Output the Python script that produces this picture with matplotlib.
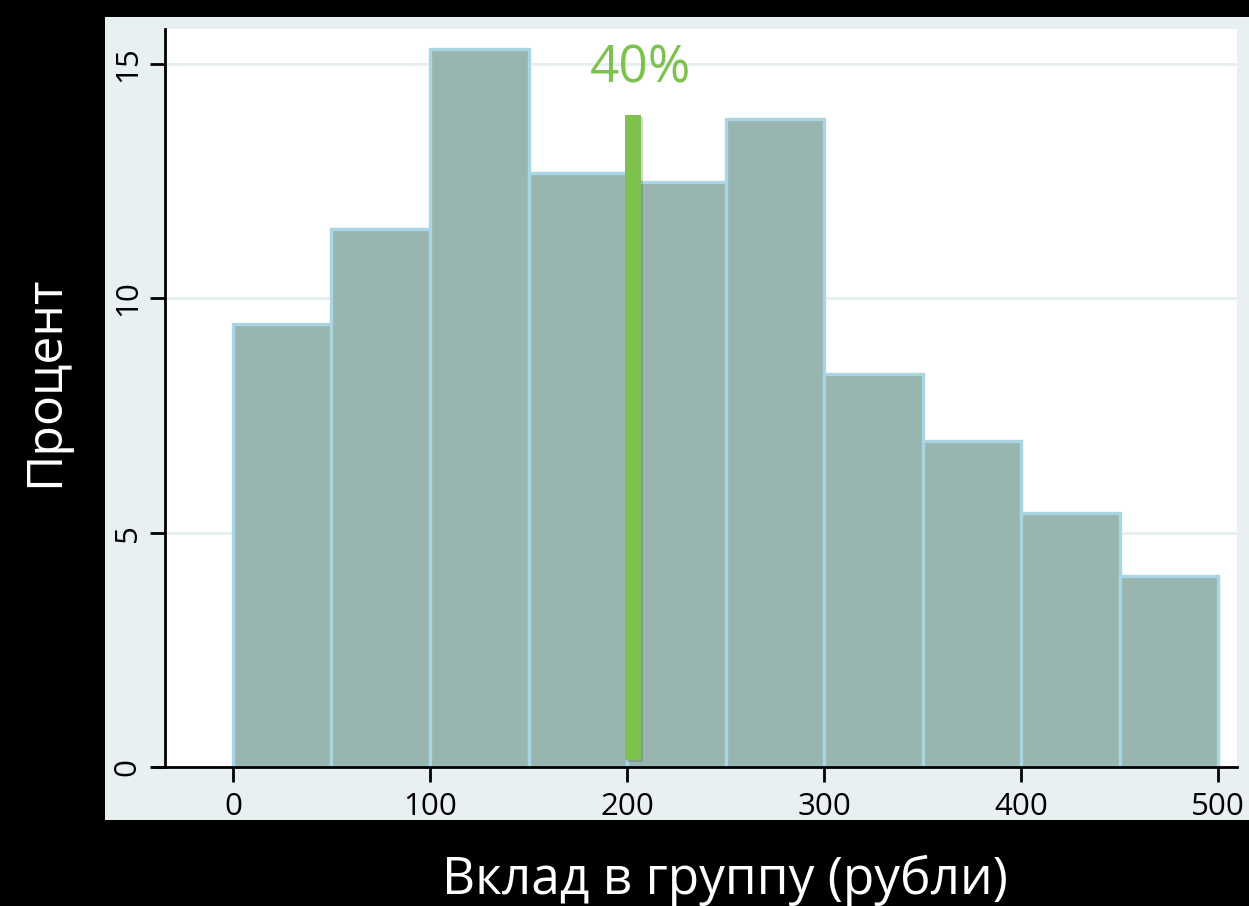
import matplotlib.pyplot as plt
import matplotlib.patheffects as pe
from matplotlib.patches import Rectangle

# histogram bins (rubles) and percent per bin
bin_edges = [0, 50, 100, 150, 200, 250, 300, 350, 400, 450, 500]
percent = [9.45, 11.49, 15.33, 12.67, 12.49, 13.82, 8.38, 6.95, 5.42, 4.07]

# highlighted contribution (40% of 500)
marker_x = 199
marker_w = 8
marker_top = 13.92
marker_label = "40%"

x_ticks = [0, 100, 200, 300, 400, 500]
y_ticks = [0, 5, 10, 15]

plt.rcParams['font.family'] = ['Open Sans', 'DejaVu Sans']

W, H = 1249, 906
fig = plt.figure(figsize=(W / 100, H / 100), dpi=100, facecolor='black')

# light outer panel, kept behind the axes
fig.patches.append(Rectangle((105 / W, 1 - 820 / H), 1 - 105 / W, (820 - 17) / H,
                             transform=fig.transFigure, facecolor='#e8f0f2',
                             edgecolor='none', zorder=-5))

ax = fig.add_axes([165 / W, 1 - 767 / H, (1237 - 165) / W, (767 - 29) / H])
ax.set_facecolor('white')

widths = [b - a for a, b in zip(bin_edges[:-1], bin_edges[1:])]
ax.bar(bin_edges[:-1], percent, width=widths, align='edge',
       color='#98b5b0', edgecolor='#a9d5e5', linewidth=2.4, zorder=2)

ax.bar(marker_x, marker_top - 0.15, width=marker_w, bottom=0.15, align='edge',
       color='#7dc24f', linewidth=0, zorder=3,
       path_effects=[pe.SimplePatchShadow(offset=(1.5, -1.5), alpha=0.2),
                     pe.Normal()])
ax.text(marker_x + marker_w, 14.9, marker_label, color='#7dc24f',
        fontsize=37, ha='center', va='center', zorder=4)

ax.set_xlim(-34.5, 509.6)
ax.set_ylim(0, 15.75)
ax.set_xticks(x_ticks)
ax.set_yticks(y_ticks)
ax.yaxis.grid(True, color='#e6eef0', linewidth=2, zorder=0)
ax.set_axisbelow(True)

for s in ['top', 'right']:
    ax.spines[s].set_visible(False)
ax.spines['left'].set_linewidth(2)
ax.spines['bottom'].set_linewidth(2)
ax.plot([-0.011, 0], [0, 0], transform=ax.transAxes, color='black',
        linewidth=2, clip_on=False, solid_capstyle='butt')

ax.tick_params(axis='both', length=11, width=2, labelsize=22.5, color='black')
ax.tick_params(axis='x', pad=7)
ax.tick_params(axis='y', pad=5)
for lab in ax.get_yticklabels():
    lab.set_rotation(90)
    lab.set_va('center')

fig.text(725 / W, 1 - 880 / H, "Вклад в группу (рубли)", color='white',
         fontsize=37, ha='center', va='center')
fig.text(45 / W, 1 - 381 / H, "Процент", color='white', fontsize=36,
         ha='center', va='center', rotation=90)

fig.savefig('out.png', dpi=100, facecolor='black')
